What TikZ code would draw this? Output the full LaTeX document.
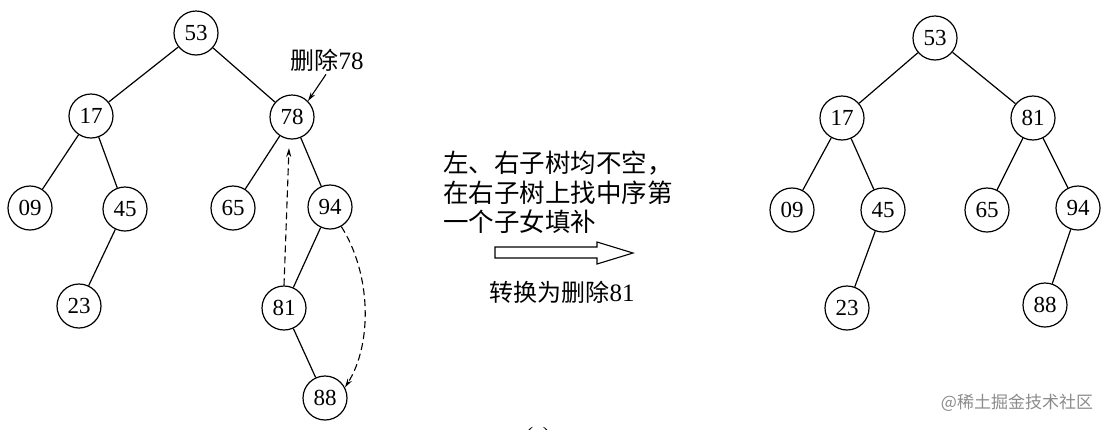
\documentclass[tikz,border=0pt]{standalone}
\usepackage{fontspec}
\setmainfont{Liberation Serif}
\newfontfamily\cjk{Noto Sans CJK SC}
\usetikzlibrary{arrows.meta}
\begin{document}
\begin{tikzpicture}[x=1pt,y=-1pt,
  tn/.style={circle,draw,line width=1.2pt,minimum size=44pt,inner sep=0pt,font=\fontsize{23}{23}\selectfont},
  ed/.style={line width=1.2pt},
  darr/.style={line width=1.1pt,dash pattern=on 7pt off 4pt,-{Stealth[length=9pt,width=5pt]}},
  sarr/.style={line width=1.1pt,-{Stealth[length=9pt,width=5pt]}},
  cjkt/.style={font=\cjk\fontsize{24}{24}\selectfont,inner sep=0pt},
  cjkb/.style={font=\cjk\fontsize{25.5}{25.5}\selectfont,inner sep=0pt,anchor=west}]
\useasboundingbox (0,0) rectangle (1113,429);
\fill[white] (0,0) rectangle (1113,429);
% left tree
\node[tn] (L53) at (196,33) {53};
\node[tn] (L17) at (91,116) {17};
\node[tn] (L78) at (292,117) {78};
\node[tn] (L09) at (30,208) {09};
\node[tn] (L45) at (125,209) {45};
\node[tn] (L65) at (233,208) {65};
\node[tn] (L94) at (330,207) {94};
\node[tn] (L23) at (79,306) {23};
\node[tn] (L81) at (284,308) {81};
\node[tn] (L88) at (325,398) {88};
\draw[ed] (L53) -- (L17);
\draw[ed] (L53) -- (L78);
\draw[ed] (L17) -- (L09);
\draw[ed] (L17) -- (L45);
\draw[ed] (L45) -- (L23);
\draw[ed] (L78) -- (L65);
\draw[ed] (L78) -- (L94);
\draw[ed] (L94) -- (L81);
\draw[ed] (L81) -- (L88);
\node[cjkt] (lbl78) at (327,60) {删除\fontspec{Liberation Serif}\fontsize{25}{25}\selectfont 78};
\draw[sarr] ([xshift=-1pt,yshift=-3pt]lbl78.south) -- (L78.45);
\coordinate (tipA) at (289,148);
\draw[darr] (L81.north) -- (tipA);
\draw[darr] (L94.-60) .. controls (372,275) and (372,345) .. (L88.28);
% middle text
\node[cjkb] (t1) at (443,163) {左、右子树均不空，};
\node[cjkb] (t2) at (443,193) {在右子树上找中序第};
\node[cjkb] (t3) at (443,222) {一个子女填补};
\draw[line width=1.1pt] (495,247) -- (597,247) -- (597,242) -- (633,253) -- (597,264) -- (597,258) -- (495,258) -- cycle;
\node[cjkt] (t4) at (562,292) {转换为删除\fontspec{Liberation Serif}\fontsize{25}{25}\selectfont 81};
% right tree
\node[tn] (R53) at (935,38) {53};
\node[tn] (R17) at (842,118) {17};
\node[tn] (R81) at (1033,118) {81};
\node[tn] (R09) at (792,210) {09};
\node[tn] (R45) at (883,210) {45};
\node[tn] (R65) at (987,210) {65};
\node[tn] (R94) at (1078,208) {94};
\node[tn] (R23) at (847,308) {23};
\node[tn] (R88) at (1045,305) {88};
\draw[ed] (R53) -- (R17);
\draw[ed] (R53) -- (R81);
\draw[ed] (R17) -- (R09);
\draw[ed] (R17) -- (R45);
\draw[ed] (R45) -- (R23);
\draw[ed] (R81) -- (R65);
\draw[ed] (R81) -- (R94);
\draw[ed] (R94) -- (R88);
% caption and watermark
\node[font=\fontsize{22}{22}\selectfont,inner sep=0pt] (cap) at (538,437) {(c)};
\node[font=\cjk\fontsize{17}{17}\selectfont,text=black!45,inner sep=0pt] (wm) at (1017,403) {@稀土掘金技术社区};
\end{tikzpicture}
\end{document}
